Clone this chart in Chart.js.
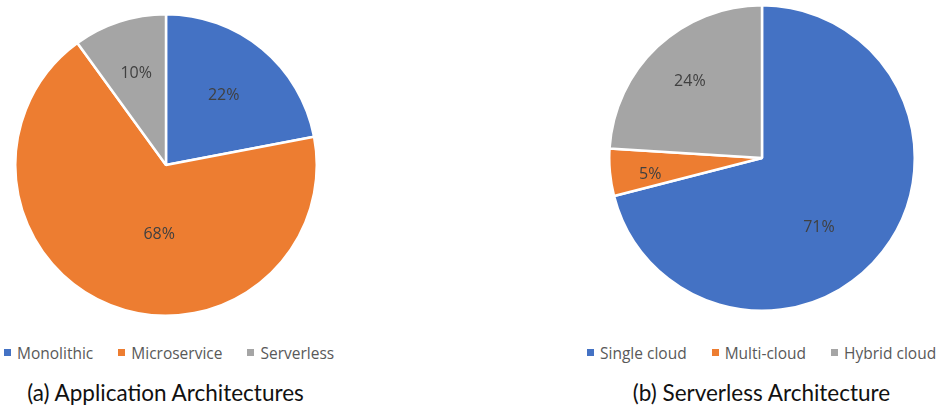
<!DOCTYPE html>
<html>
<head>
<meta charset="utf-8">
<script src="https://cdn.jsdelivr.net/npm/chart.js@4.4.1/dist/chart.umd.min.js"></script>
<style>
  html, body { margin: 0; padding: 0; background: #fff; }
  body { width: 950px; height: 410px; position: relative; overflow: hidden; font-family: 'Open Sans', sans-serif; }
  .pie { position: absolute; }
  .legend { position: absolute; display: flex; gap: 25px; font-size: 15.5px; color: #595959; white-space: nowrap; }
  .legend span.box { display: inline-block; width: 7px; height: 7px; margin-right: 6px; vertical-align: 3px; }
  .caption { position: absolute; font-family: Lato, sans-serif; font-size: 22.5px; color: #111; white-space: nowrap; text-align: center; }
</style>
</head>
<body>
<div class="pie" style="left:14px; top:13px; width:304px; height:304px;"><canvas id="pieA"></canvas></div>
<div class="pie" style="left:608px; top:4px; width:308px; height:308px;"><canvas id="pieB"></canvas></div>
<div class="legend" id="legA" style="left:4px; top:342px;"></div>
<div class="legend" id="legB" style="left:587px; top:342px;"></div>
<div class="caption" style="left:0; width:331px; top:379px;">(a) Application Architectures</div>
<div class="caption" style="left:595px; width:333px; top:379px;">(b) Serverless Architecture</div>
<script>
// ── data ──
const appLabels = ['Monolithic', 'Microservice', 'Serverless'];
const appValues = [22, 68, 10];

const cloudLabels = ['Single cloud', 'Multi-cloud', 'Hybrid cloud'];
const cloudValues = [71, 5, 24];

// ── style ──
const COLORS = ['#4472C4', '#ED7D31', '#A5A5A5'];
const LABEL_COLOR = '#404040';
const FONT_FAMILY = "'Open Sans', sans-serif";

// percent label placement: fraction of radius, and a nudge (degrees) off the slice bisector
const appLabelRadius = [0.6, 0.46, 0.64];
const appLabelNudge = [0, -16, 0];
const cloudLabelRadius = [0.59, 0.74, 0.69];
const cloudLabelNudge = [13, -3, 0];

// draws the "22%" style labels inside slices
const sliceLabels = {
  id: 'sliceLabels',
  afterDatasetsDraw(chart, args, opts) {
    const { ctx } = chart;
    const meta = chart.getDatasetMeta(0);
    const data = chart.data.datasets[0].data;
    const total = data.reduce((a, b) => a + b, 0);
    ctx.save();
    ctx.font = `16px ${FONT_FAMILY}`;
    ctx.fillStyle = LABEL_COLOR;
    ctx.textAlign = 'center';
    ctx.textBaseline = 'middle';
    meta.data.forEach((arc, i) => {
      const { x, y, startAngle, endAngle, outerRadius } = arc.getProps(['x', 'y', 'startAngle', 'endAngle', 'outerRadius'], true);
      const mid = (startAngle + endAngle) / 2 + (opts.nudge[i] || 0) * Math.PI / 180;
      const r = outerRadius * (opts.radii[i] || 0.6);
      const pct = Math.round(data[i] / total * 100) + '%';
      ctx.fillText(pct, x + Math.cos(mid) * r, y + Math.sin(mid) * r);
    });
    ctx.restore();
  }
};

function renderPie(canvasId, labels, values, radii, nudge) {
  const ctx = document.getElementById(canvasId).getContext('2d');
  return new Chart(ctx, {
    type: 'pie',
    data: {
      labels,
      datasets: [{
        data: values,
        backgroundColor: COLORS,
        borderColor: '#ffffff',
        borderWidth: 2.5
      }]
    },
    options: {
      responsive: true,
      maintainAspectRatio: false,
      animation: false,
      layout: { padding: 0 },
      plugins: {
        legend: { display: false },
        tooltip: { enabled: false },
        sliceLabels: { radii, nudge }
      }
    },
    plugins: [sliceLabels]
  });
}

function renderLegend(elId, labels) {
  const el = document.getElementById(elId);
  labels.forEach((l, i) => {
    const item = document.createElement('div');
    item.innerHTML = `<span class="box" style="background:${COLORS[i]}"></span>${l}`;
    el.appendChild(item);
  });
}

renderPie('pieA', appLabels, appValues, appLabelRadius, appLabelNudge);
renderPie('pieB', cloudLabels, cloudValues, cloudLabelRadius, cloudLabelNudge);
renderLegend('legA', appLabels);
renderLegend('legB', cloudLabels);
</script>
</body>
</html>
